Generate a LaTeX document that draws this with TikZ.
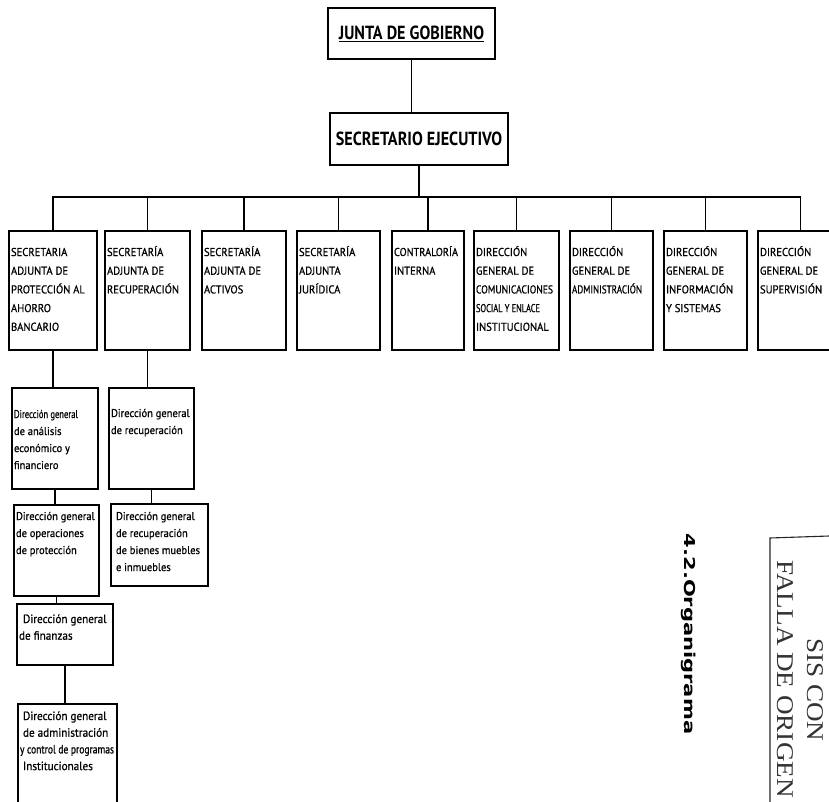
\documentclass[tikz,border=0pt]{standalone}
\usepackage{fontspec}
\usepackage{graphicx}
\usetikzlibrary{positioning}
\newfontfamily\orgfont[FakeStretch=0.93, FakeBold=0.8]{PT Sans}
\newfontfamily\titfont[FakeStretch=0.85]{PT Sans}
\newfontfamily\rotfont[FakeStretch=1.4]{DejaVu Sans}
\newfontfamily\sellofont[FakeStretch=1.13]{Liberation Serif}
\tikzset{
    titulo/.style={rectangle, draw, line width=1.1pt, outer sep=0pt,
        font=\titfont\bfseries\fontsize{19}{20}\selectfont},
    secbox/.style={rectangle, draw, line width=1.1pt, inner sep=2pt, outer sep=0pt,
        font=\orgfont\fontsize{11.4}{18.7}\selectfont},
    dirbox/.style={secbox, font=\orgfont\fontsize{11.3}{17}\selectfont},
    dirgrande/.style={secbox, font=\orgfont\fontsize{12}{16.7}\selectfont},
    linea/.style={line width=1.1pt}
}
\newcommand{\caja}[4]{\parbox[t][#2][t]{#1}{\raggedright\rule{0pt}{#3}#4}}
\newcommand{\ajusta}[2]{\resizebox{#1}{\height}{#2}}

\begin{document}
\begin{tikzpicture}[x=1pt, y=-1pt]
    \useasboundingbox (0,0) rectangle (829,802);
    \clip (0,0) rectangle (829,802);

    \node[titulo, minimum width=167pt, minimum height=51pt] (junta) at (411.5,33.5) {\underline{JUNTA DE GOBIERNO}};
    \node[titulo, minimum width=178pt, minimum height=52pt, below right=54pt and 2pt of junta.south west] (sec) {SECRETARIO EJECUTIVO};

    % secretarias y direcciones
    \node[secbox, anchor=north west] (s1) at (9,231) {\caja{84pt}{115pt}{23pt}{SECRETARIA\\ADJUNTA DE\\PROTECCIÓN AL\\AHORRO\\BANCARIO}};
    \node[secbox, right=8pt of s1] (s2) {\caja{81pt}{115pt}{23pt}{SECRETARÍA\\ADJUNTA DE\\RECUPERACIÓN}};
    \node[secbox, right=12pt of s2] (s3) {\caja{80pt}{115pt}{23pt}{SECRETARÍA\\ADJUNTA DE\\ACTIVOS}};
    \node[secbox, right=11pt of s3] (s4) {\caja{79pt}{115pt}{23pt}{SECRETARÍA\\ADJUNTA\\JURÍDICA}};
    \node[secbox, right=12pt of s4] (s5) {\caja{68pt}{115pt}{23pt}{\ajusta{64pt}{CONTRALORÍA}\\INTERNA}};
    \node[secbox, right=10pt of s5] (s6) {\caja{81pt}{115pt}{23pt}{DIRECCIÓN\\GENERAL DE\\\ajusta{77pt}{COMUNICACIONES}\\\ajusta{64pt}{SOCIAL Y ENLACE}\\INSTITUCIONAL}};
    \node[secbox, right=11pt of s6] (s7) {\caja{79pt}{115pt}{23pt}{DIRECCIÓN\\GENERAL DE\\\ajusta{70pt}{ADMINISTRACIÓN}}};
    \node[secbox, right=11pt of s7] (s8) {\caja{79pt}{115pt}{23pt}{DIRECCIÓN\\GENERAL DE\\INFORMACIÓN\\Y SISTEMAS}};
    \node[secbox, right=11pt of s8] (s9) {\caja{81pt}{115pt}{23pt}{DIRECCIÓN\\GENERAL DE\\SUPERVISIÓN}};

    % direcciones generales
    \node[dirbox, below right=38pt and 3pt of s1.south west] (a1) {\caja{82pt}{97pt}{28pt}{\ajusta{64pt}{Dirección general}\\de análisis\\económico y\\financiero}};
    \node[dirbox, below right=38pt and 4pt of s2.south west] (b1) {\caja{81pt}{97pt}{27pt}{Dirección general\\de recuperación}};
    \node[dirbox, below right=16pt and 2pt of a1.south west] (a2) {\caja{81pt}{87pt}{13pt}{Dirección general\\de operaciones\\de protección}};
    \node[dirbox, below right=15pt and 2pt of b1.south west] (b2) {\caja{93pt}{78pt}{14pt}{\hspace{3pt}Dirección general\\\hspace{3pt}de recuperación\\\hspace{3pt}de bienes muebles\\\hspace{3pt}e inmuebles}};
    \node[dirgrande, below right=8pt and 3pt of a2.south west] (a3) {\caja{92pt}{57pt}{17pt}{\hspace{4pt}Dirección general\\de finanzas}};
    \node[dirgrande, below right=39pt and 1pt of a3.south west] (a4) {\caja{95pt}{106pt}{14pt}{\hspace{3pt}Dirección general\\\hspace{3pt}de administración\\\ajusta{94pt}{y control de programas}\\\hspace{3pt}Institucionales}};

    \draw[linea] (junta.south) -- (junta.south |- sec.north);
    \draw[linea] (sec.south) -- ++(0,32) coordinate (barra);
    \foreach \n in {1,...,9}
        \draw[linea] (barra) -| (s\n.north);

    \draw[linea] (s1.south) -- (s1.south |- a1.north);
    \draw[linea] (s2.south) -- (s2.south |- b1.north);
    \draw[linea] (a1.south) -- (a1.south |- a2.north);
    \draw[linea] (a2.south) -- (a2.south |- a3.north);
    \draw[linea] (a3.south) -- (a3.south |- a4.north);
    \draw[linea] (b1.south) -- (b1.south |- b2.north);

    % titulo girado y sello
    \node[rotate=-90, font=\rotfont\bfseries\fontsize{15}{15}\selectfont] (orga) at (689,634) {4.2.Organigrama};
    \draw[line width=1.1pt, black!85] (829,536) -- (770,538) -- (770,802);
    \node[rotate=-90, text=black!80, font=\sellofont\fontsize{24}{24}\selectfont] (sis) at (815,690) {SIS CON};
    \node[rotate=-90, text=black!80, font=\sellofont\fontsize{24}{24}\selectfont] (falla) at (785,679) {FALLA DE ORIGEN};
\end{tikzpicture}
\end{document}
